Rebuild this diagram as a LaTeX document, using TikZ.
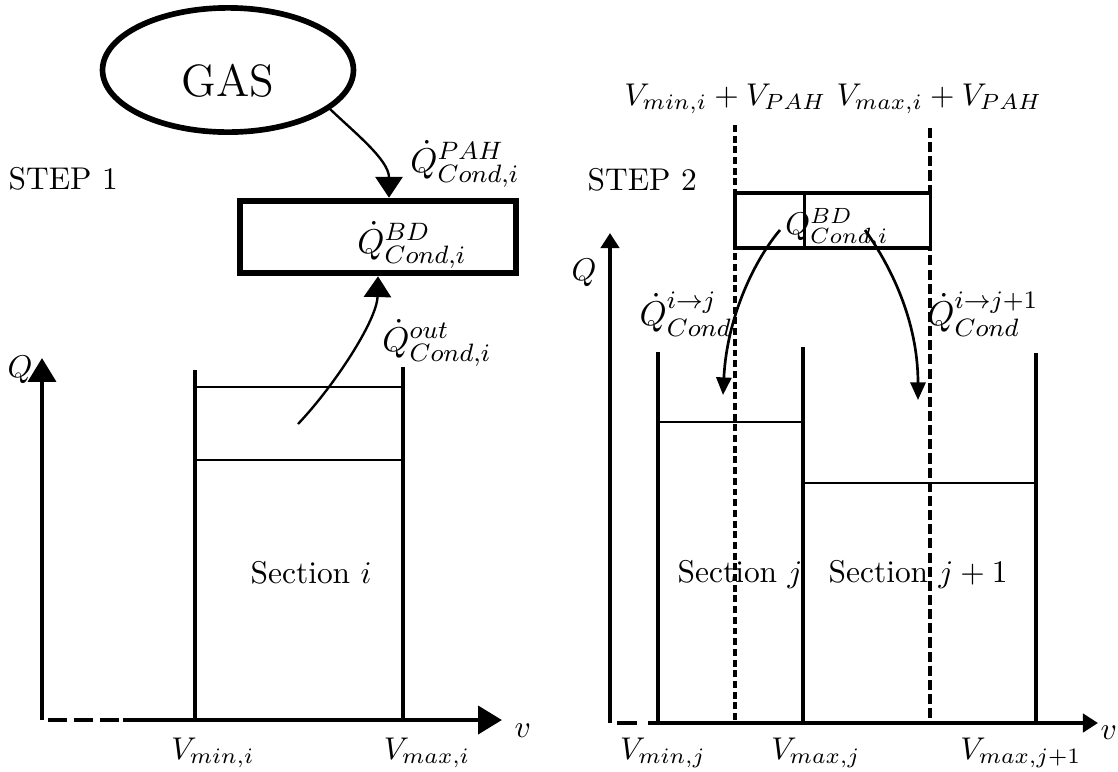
\documentclass[tikz,border=0pt]{standalone}
\usepackage{tikz}
\usetikzlibrary{arrows.meta,shapes.geometric}

\begin{document}
\begin{tikzpicture}[
  x=0.318pt,y=-0.318pt,
  axis/.style={line width=1.5pt},
  sec/.style={line width=1.1pt},
  lvl/.style={line width=0.75pt},
  guide/.style={line width=1pt},
  bigarr/.style={line width=0.75pt,-{Triangle[length=6.6pt,width=8.6pt]}},
  smallarr/.style={line width=0.85pt,-{Triangle[length=5.6pt,width=4.8pt]}},
  bigaxis/.style={axis,-{Triangle[length=7.6pt,width=8.8pt]}},
  smallaxis/.style={axis,-{Triangle[length=4.8pt,width=5.8pt]}},
  qlab/.style={font=\fontsize{11}{13}\selectfont,inner sep=0pt},
  vlab/.style={anchor=north,inner sep=0pt},
  steplab/.style={anchor=base west,inner sep=0pt},
  seclab/.style={anchor=base west,inner sep=0pt}
]
\useasboundingbox (0,0) rectangle (1118,771);

\node[steplab] (step1) at (8,189) {STEP 1};
\node[draw,ellipse,line width=1.8pt,minimum width=79.8pt,minimum height=39.5pt,
  font=\fontsize{14.4}{17}\selectfont] (gas) at (228,70) {\raisebox{-8.4pt}[0pt][0pt]{GAS}};
\node[draw,line width=2.1pt,minimum width=87.8pt,minimum height=22.9pt,inner sep=0pt] (bd) at (378,237) {};
\node[qlab] (bdq) at (412,245) {$\dot{Q}^{BD}_{Cond,i}$};
\node[qlab] (pahq) at (465,164) {$\dot{Q}^{PAH}_{Cond,i}$};
\node[qlab] (outq) at (437,343) {$\dot{Q}^{out}_{Cond,i}$};
\node[inner sep=0pt] (q1) at (20,370) {$Q$};
\node[seclab] (seci) at (250,583) {Section $i$};
\node[vlab] (vmini) at (213,737) {$V_{min,i}$};
\node[vlab] (vmaxi) at (427,737) {$V_{max,i}$};
\node[anchor=base west,inner sep=0pt] (v1) at (514,737) {$v$};

\coordinate (o1) at (42,720);
\coordinate (s1) at (123,720);
\coordinate (outsrc) at (298,424);
\draw[bigaxis] (o1) -- (42,358);
\draw[axis,dash pattern=on 0pt off 2pt on 6pt off 2.3pt on 6pt off 2.3pt on 6pt off 2pt] (o1) -- (s1);
\draw[bigaxis] (s1) -- (502,720);
\draw[sec] (195,370) -- (195,720);
\draw[sec] (403,367) -- (403,720);
\draw[lvl] (195,387) -- (403,387);
\draw[lvl] (195,460) -- (403,460);
\draw[bigarr] (gas.-21) .. controls (355,133) and (389,160) .. ([xshift=3.5pt]bd.north);
\draw[bigarr] (outsrc) .. controls (335,385) and (377,320) .. (bd.south);

\node[steplab] (step2) at (587,190) {STEP 2};
\node[anchor=base east,inner sep=0pt] (vlo) at (827,105) {$V_{min,i}+V_{PAH}$};
\node[anchor=base west,inner sep=0pt] (vhi) at (836,105) {$V_{max,i}+V_{PAH}$};
\draw[guide,dash pattern=on 2.2pt off 1.2pt] (735,125) -- (735,723);
\draw[guide,dash pattern=on 3.2pt off 1.3pt] (930,128) -- (930,723);
\node[draw,fill=white,line width=1pt,minimum width=22.3pt,minimum height=17.5pt,inner sep=0pt] (bdl) at (770,220.5) {};
\node[draw,fill=white,line width=1pt,minimum width=39.8pt,minimum height=17.5pt,inner sep=0pt] (bdr) at (867.5,220.5) {};
\node[inner sep=0pt] (bdq2) at (837,228) {$Q^{BD}_{Cond,i}$};
\node[inner sep=0pt] (q2) at (584,273) {$Q$};
\node[qlab] (ijq) at (686,314) {$\dot{Q}^{i\rightarrow j}_{Cond}$};
\node[qlab] (ijjq) at (983,314) {$\dot{Q}^{i\rightarrow j+1}_{Cond}$};
\node[seclab] (secj) at (677,582) {Section $j$};
\node[seclab] (secjj) at (828,582) {Section $j+1$};
\node[vlab] (vminj) at (663,737) {$V_{min,j}$};
\node[vlab] (vmaxj) at (816,737) {$V_{max,j}$};
\node[vlab] (vmaxjj) at (1021,737) {$V_{max,j+1}$};
\node[anchor=base west,inner sep=0pt] (v2) at (1100,739) {$v$};

\coordinate (o2) at (610,723);
\coordinate (s2) at (648,723);
\coordinate (srcj) at (780,230);
\coordinate (srcjj) at (865,230);
\coordinate (tipj) at (723,395);
\coordinate (tipjj) at (918,400);
\draw[smallaxis] (o2) -- (610,233);
\draw[axis,dash pattern=on 0pt off 2.2pt on 6.4pt off 4pt] (o2) -- (s2);
\draw[smallaxis] (s2) -- (1098,723);
\draw[sec] (658,352) -- (658,723);
\draw[sec] (803,347) -- (803,723);
\draw[sec] (1036,353) -- (1036,723);
\draw[lvl] (658,422) -- (803,422);
\draw[lvl] (803,483) -- (1036,483);
\draw[smallarr] (srcj) .. controls (756,258) and (727,315) .. (tipj);
\draw[smallarr] (srcjj) .. controls (890,265) and (918,320) .. (tipjj);
\end{tikzpicture}
\end{document}
